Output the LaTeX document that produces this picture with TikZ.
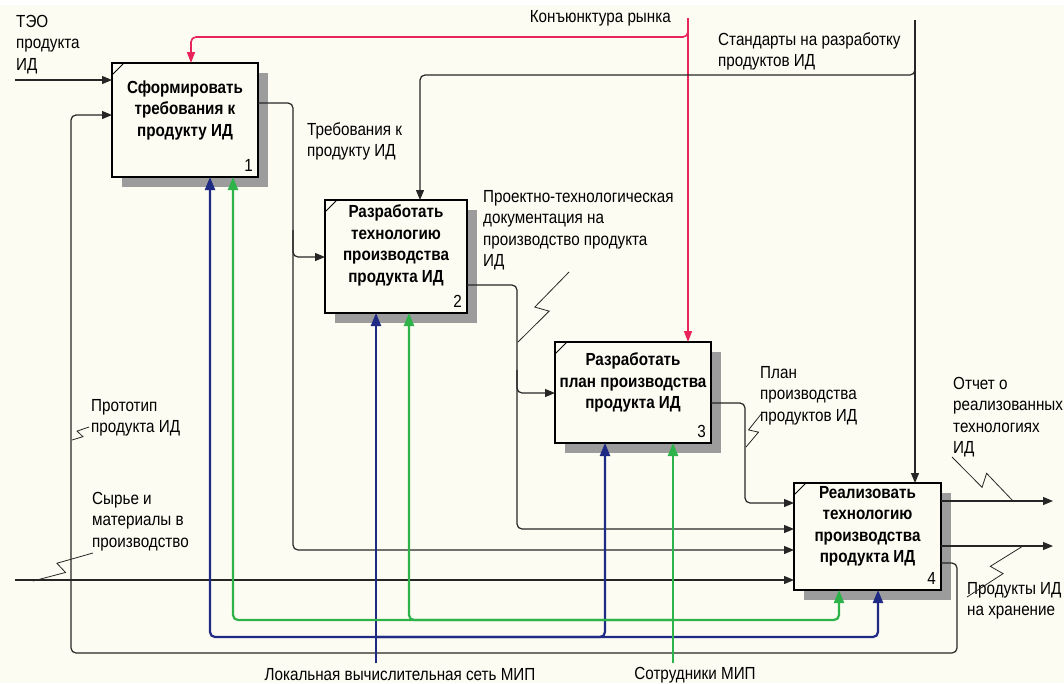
\documentclass[tikz,border=0pt]{standalone}
\usepackage{fontspec}
\setmainfont{Liberation Sans}[FakeStretch=0.87]
\usetikzlibrary{arrows.meta,calc,shadows}

\definecolor{bg}{HTML}{FCFCF2}
\definecolor{redl}{HTML}{E8245A}
\definecolor{bluel}{HTML}{1E2A84}
\definecolor{greenl}{HTML}{2DB34A}
\definecolor{linek}{HTML}{262626}
\definecolor{shade}{HTML}{9C9C9C}

\tikzset{
  box/.style={draw=black, line width=2.2pt, fill=bg, inner sep=0pt, outer sep=0pt,
    drop shadow={shadow xshift=10pt, shadow yshift=-10pt, fill=shade, opacity=1}},
  boxtext/.style={font=\fontsize{17.5}{21.5}\selectfont\bfseries, align=center, inner sep=0pt},
  num/.style={font=\fontsize{17.5}{21}\selectfont, anchor=south east, inner sep=0pt},
  lbl/.style={font=\fontsize{17.5}{21.5}\selectfont, align=left, anchor=north west, inner sep=0pt},
  clbl/.style={font=\fontsize{17.5}{21.5}\selectfont, inner sep=0pt},
  wire/.style={draw=linek, line width=1.2pt, rounded corners=5pt},
  flow/.style={wire, -{Triangle[length=10pt,width=8pt]}},
  redflow/.style={draw=redl, line width=1.6pt, rounded corners=5pt, -{Triangle[length=11pt,width=8pt]}},
  blueflow/.style={draw=bluel, line width=2.2pt, rounded corners=5pt, -{Triangle[length=13pt,width=10pt]}},
  greenflow/.style={draw=greenl, line width=2.2pt, rounded corners=5pt, -{Triangle[length=13pt,width=10pt]}},
  zzline/.style={draw=linek, line width=0.8pt},
  corner/.style={draw=black, line width=1pt}
}

% IDEF0 squiggle joining a label to its arrow
\newcommand\squig[3]{%
  \draw[zzline] (#1) -- ($(#1)!0.56!(#2)!#3!-90:(#2)$)
    -- ($(#1)!0.5!(#2)!#3!90:(#2)$) -- (#2);}

\begin{document}
\begin{tikzpicture}[x=1pt,y=-1pt]
\useasboundingbox[fill=bg] (0,0) rectangle (1064,683);
\fill[white] (0,0) rectangle (1064,5);

% activity boxes
\node[box, minimum width=146pt, minimum height=114pt] (b1) at (185,120) {};
\node[box, minimum width=142pt, minimum height=113pt] (b2) at (396,256.5) {};
\node[box, minimum width=156pt, minimum height=101pt] (b3) at (633,392.5) {};
\node[box, minimum width=147pt, minimum height=107pt] (b4) at (867.5,536.5) {};

\node[boxtext] (t1) at ([yshift=10pt]b1.center) {Сформировать\\требования к\\продукту ИД};
\node[boxtext] (t2) at ([yshift=11pt]b2.center) {Разработать\\технологию\\производства\\продукта ИД};
\node[boxtext] (t3) at ([yshift=10pt]b3.center) {Разработать\\план производства\\продукта ИД};
\node[boxtext] (t4) at ([yshift=10pt]b4.center) {Реализовать\\технологию\\производства\\продукта ИД};

\foreach \b/\n in {b1/1,b2/2,b3/3,b4/4}{
  \node[num] (n\b) at ([shift={(-5pt,5pt)}]\b.south east) {\n};
  \draw[corner] ([yshift=-12pt]\b.north west) -- ([xshift=12pt]\b.north west);
}

% inputs
\coordinate (teo) at (15,80);
\coordinate (raw) at (15,580);
\draw[flow] (teo) -- (teo -| b1.west);
\draw[flow] (raw) -- (raw -| b4.west);

% outputs passed from box to box
\draw[flow] (b1.east |- 0,103) -- (293,103) -- (293,257) -- (b2.west |- 0,257);
\draw[flow] (293,230) -- (293,550) -- (b4.west |- 0,550);
\draw[flow] (b2.east |- 0,285) -- (517,285) -- (517,393) -- (b3.west |- 0,393);
\draw[flow] (517,370) -- (517,529) -- (b4.west |- 0,529);
\draw[flow] (b3.east |- 0,403) -- (745,403) -- (745,503) -- (b4.west |- 0,503);
\coordinate (rep) at (1053,501);
\coordinate (store) at (1053,546);
\draw[flow] (b4.east |- rep) -- (rep);
\draw[flow] (b4.east |- store) -- (store);
\draw[flow] (b4.east |- 0,563) -- (957,563) -- (957,653) -- (71,653) -- (71,115) -- (b1.west |- 0,115);

% controls
\coordinate (mkt) at (688,18);
\coordinate (std) at (915,20);
\draw[redflow] (mkt) -- (mkt |- b3.north);
\draw[redflow] (688,24) -- (688,37) -- (191,37) -- (191,0 |- b1.north);
\draw[flow] (std) -- (std |- b4.north);
\draw[flow] (915,55) -- (915,75) -- (420,75) -- (420,0 |- b2.north);

% mechanisms
\coordinate (lan) at (376,663);
\coordinate (staff) at (673,663);
\draw[blueflow] (lan) -- (lan |- b2.south);
\draw[blueflow] (376,637) -- (210,637) -- (210,0 |- b1.south);
\draw[blueflow] (376,637) -- (605,637) -- (605,0 |- b3.south);
\draw[blueflow] (376,637) -- (878,637) -- (878,0 |- b4.south);
\draw[greenflow] (staff) -- (staff |- b3.south);
\draw[greenflow] (673,620) -- (233,620) -- (233,0 |- b1.south);
\draw[greenflow] (673,620) -- (409,620) -- (409,0 |- b2.south);
\draw[greenflow] (673,620) -- (839,620) -- (839,0 |- b4.south);

% arrow labels
\node[lbl] (lteo) at (16,12) {\strut ТЭО\\продукта\\ИД};
\node[clbl, anchor=east] (lmkt) at (671,18) {Конъюнктура рынка};
\node[lbl] (lstd) at (718,30) {\strut Стандарты на разработку\\продуктов ИД};
\node[lbl] (lreq) at (307,120) {\strut Требования к\\продукту ИД};
\node[lbl] (ldoc) at (483,187) {\strut Проектно-технологическая\\документация на\\производство продукта\\ИД};
\node[lbl] (lplan) at (760,363) {\strut План\\производства\\продуктов ИД};
\node[lbl] (lrep) at (953,374) {\strut Отчет о\\реализованных\\технологиях\\ИД};
\node[lbl] (lproto) at (91,396) {\strut Прототип\\продукта ИД};
\node[lbl] (lraw) at (92,489) {\strut Сырье и\\материалы в\\производство};
\node[lbl] (lstore) at (967,579) {\strut Продукты ИД\\на хранение};
\node[clbl] (llan) at (400,675) {Локальная вычислительная сеть МИП};
\node[clbl] (lstaff) at (695,675) {Сотрудники МИП};

% squiggles
\coordinate (z1a) at (93,553);  \coordinate (z1b) at (33,581);
\coordinate (z2a) at (89,427);  \coordinate (z2b) at (72,440);
\coordinate (z3a) at (569,272); \coordinate (z3b) at (518,342);
\coordinate (z4a) at (762,413); \coordinate (z4b) at (746,447);
\coordinate (z5a) at (952,457); \coordinate (z5b) at (1013,501);
\coordinate (z6a) at (967,597); \coordinate (z6b) at (1023,546);
\squig{z1a}{z1b}{6pt}
\squig{z2a}{z2b}{4pt}
\squig{z3a}{z3b}{7pt}
\squig{z4a}{z4b}{5pt}
\squig{z5a}{z5b}{7pt}
\squig{z6a}{z6b}{7pt}
\end{tikzpicture}
\end{document}
